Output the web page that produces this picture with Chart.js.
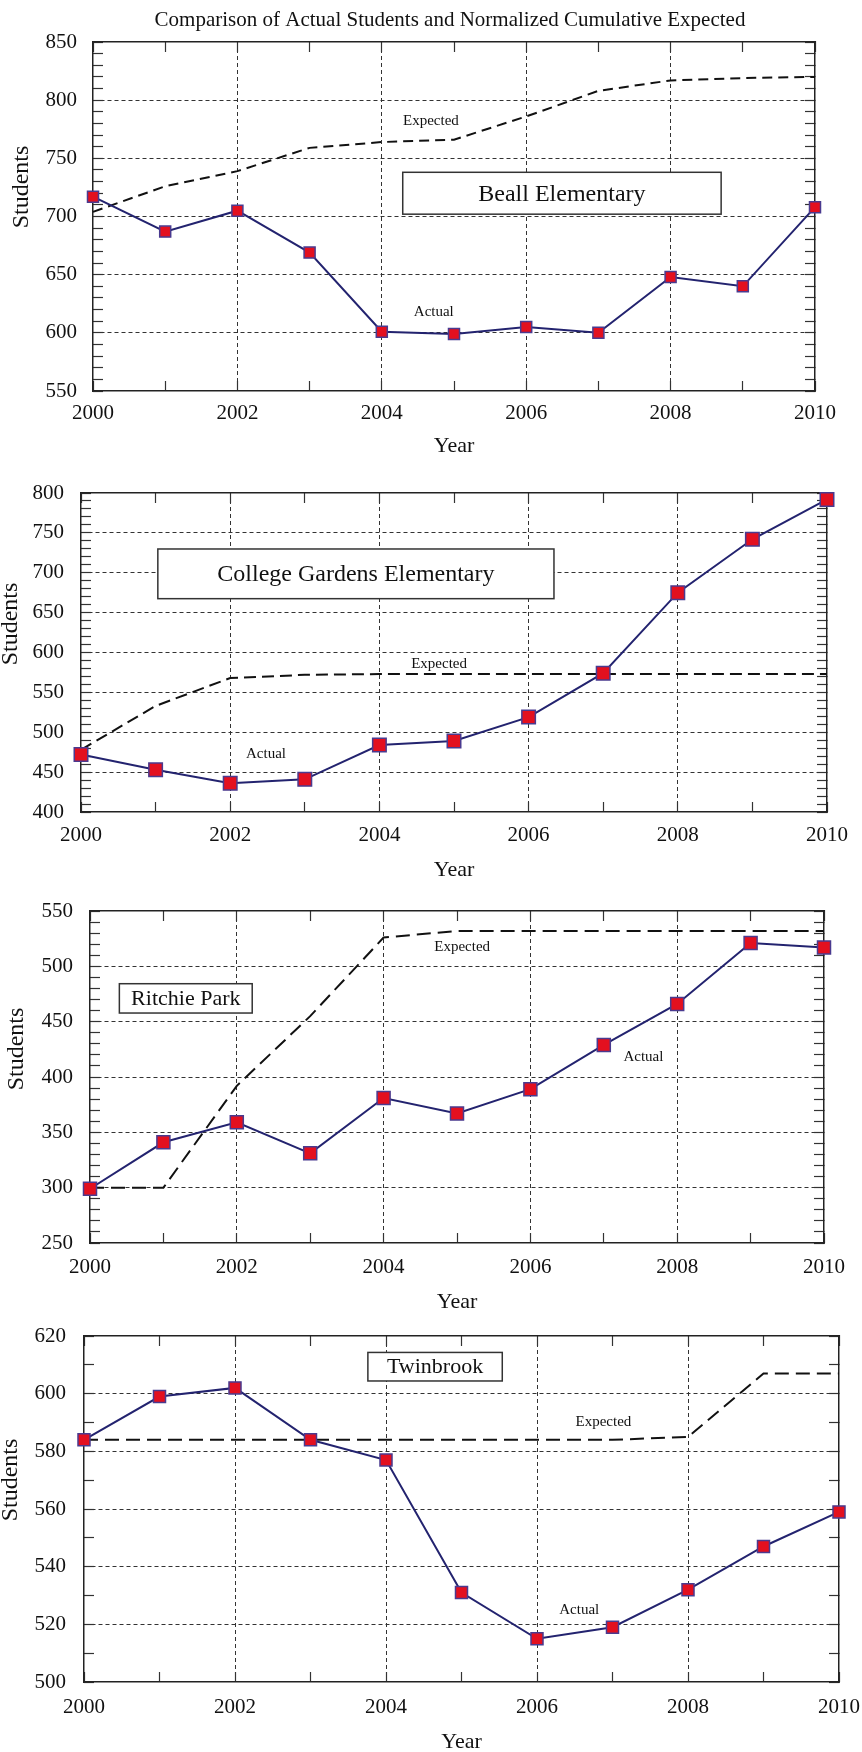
<!DOCTYPE html>
<html>
<head>
<meta charset="utf-8">
<script src="https://cdn.jsdelivr.net/npm/chart.js@4.4.1/dist/chart.umd.min.js"></script>
<style>
html,body{margin:0;padding:0;background:#fff;overflow:hidden;}
#wrap{position:relative;width:862px;height:1752px;overflow:hidden;background:#fff;}
canvas{position:absolute;left:0;}
</style>
</head>
<body>
<div id="wrap">
<canvas id="c1"></canvas>
<canvas id="c2"></canvas>
<canvas id="c3"></canvas>
<canvas id="c4"></canvas>
</div>
<script>
// ---------------- data ----------------
const years = [2000, 2001, 2002, 2003, 2004, 2005, 2006, 2007, 2008, 2009, 2010];

const beallActual     = [717, 687, 705, 669, 601, 599, 605, 600, 648, 640, 708];
const beallExpected   = [704, 726, 739, 759, 764, 766, 786, 808, 817, 819, 820];

const collegeActual   = [472, 453, 436, 441, 484, 489, 519, 574, 675, 742, 792];
const collegeExpected = [478, 533, 568, 572, 573, 573, 573, 573, 573, 573, 573];

const ritchieActual   = [299, 341, 359, 331, 381, 367, 389, 429, 466, 521, 517];
const ritchieExpected = [300, 300, 392, 455, 526, 532, 532, 532, 532, 532, 532];

const twinActual      = [584, 599, 602, 584, 577, 531, 515, 519, 532, 547, 559];
const twinExpected    = [584, 584, 584, 584, 584, 584, 584, 584, 585, 607, 607];

const schoolNames = ['Beall Elementary', 'College Gardens Elementary', 'Ritchie Park', 'Twinbrook'];
const mainTitle = 'Comparison of Actual Students and Normalized Cumulative Expected';

// ---------------- layout (pixels) ----------------
const panels = [
  { id:'c1', name:schoolNames[0], actual:beallActual, expected:beallExpected,
    yMin:550, yMax:850, yStep:50, minor:10,
    L:93, R:815, T:42, B:391, top:0, labelGap:22, yearGap:55, yGap:16,
    ytX:22, ytY:187, title:mainTitle, titleX:450, titleY:20,
    box:{x0:2004.29, x1:2008.7, y0:702, y1:738, font:24},
    expLbl:[2004.68, 782], actLbl:[2004.72, 618], marker:11, dash:[10,6] },
  { id:'c2', name:schoolNames[1], actual:collegeActual, expected:collegeExpected,
    yMin:400, yMax:800, yStep:50, minor:10,
    L:81, R:827, T:493, B:812, top:453, labelGap:23, yearGap:58, yGap:17,
    ytX:11, ytY:624,
    box:{x0:2001.03, x1:2006.34, y0:667.5, y1:729.8, font:24},
    expLbl:[2004.8, 585], actLbl:[2002.48, 473], marker:13.5, dash:[12,6] },
  { id:'c3', name:schoolNames[2], actual:ritchieActual, expected:ritchieExpected,
    yMin:250, yMax:550, yStep:50, minor:10,
    L:90, R:824, T:911, B:1243, top:871, labelGap:24, yearGap:59, yGap:17,
    ytX:17, ytY:1049,
    box:{x0:2000.4, x1:2002.21, y0:457.8, y1:484.3, font:22},
    expLbl:[2005.07, 517], actLbl:[2007.54, 418], marker:13, dash:[14,7] },
  { id:'c4', name:schoolNames[3], actual:twinActual, expected:twinExpected,
    yMin:500, yMax:620, yStep:20, minor:10,
    L:84, R:839, T:1336, B:1682, top:1296, labelGap:25, yearGap:60, yGap:18,
    ytX:11, ytY:1480,
    box:{x0:2003.76, x1:2005.54, y0:604.4, y1:614.3, font:22},
    expLbl:[2006.88, 590], actLbl:[2006.56, 525], marker:12, dash:[14,7] }
];

const SERIF = "'Liberation Serif','Times New Roman',serif";
Chart.defaults.font.family = SERIF;
Chart.defaults.color = '#111';

function makePlugin(p) {
  return {
    id: 'deco_' + p.id,
    beforeDatasetsDraw(chart) {
      const {ctx, scales:{x, y}} = chart;
      const b = p.box;
      const x1 = x.getPixelForValue(b.x0), x2 = x.getPixelForValue(b.x1);
      const y1 = y.getPixelForValue(b.y1), y2 = y.getPixelForValue(b.y0);
      ctx.save();
      ctx.fillStyle = '#fff';
      ctx.fillRect(x1, y1, x2 - x1, y2 - y1);
      ctx.strokeStyle = '#333';
      ctx.lineWidth = 1.5;
      ctx.strokeRect(x1, y1, x2 - x1, y2 - y1);
      ctx.fillStyle = '#111';
      ctx.font = b.font + 'px ' + SERIF;
      ctx.textAlign = 'center';
      ctx.textBaseline = 'middle';
      ctx.fillText(p.name, (x1 + x2) / 2, (y1 + y2) / 2 + 1);
      ctx.restore();
    },
    afterDatasetsDraw(chart) {
      const {ctx, scales:{x, y}} = chart;
      ctx.save();
      ctx.fillStyle = '#111';
      ctx.font = '15px ' + SERIF;
      ctx.textAlign = 'center';
      ctx.textBaseline = 'middle';
      ctx.fillText('Expected', x.getPixelForValue(p.expLbl[0]), y.getPixelForValue(p.expLbl[1]));
      ctx.fillText('Actual', x.getPixelForValue(p.actLbl[0]), y.getPixelForValue(p.actLbl[1]));
      ctx.restore();
    },
    afterDraw(chart) {
      const ctx = chart.ctx;
      ctx.save();
      ctx.fillStyle = '#111';
      if (p.title) {
        ctx.font = '21px ' + SERIF;
        ctx.textAlign = 'center';
        ctx.textBaseline = 'middle';
        ctx.fillText(p.title, p.titleX, p.titleY - p.top);
      }
      ctx.translate(p.ytX, p.ytY - p.top);
      ctx.rotate(-Math.PI / 2);
      ctx.font = '24px ' + SERIF;
      ctx.textAlign = 'center';
      ctx.textBaseline = 'middle';
      ctx.fillText('Students', 0, 0);
      ctx.restore();
    }
  };
}

function tickAxis(position, min, max, step, sizeKey, showBorder) {
  return {
    type: 'linear', position, min, max, weight: 0,
    ticks: { display: false, stepSize: step },
    grid: { drawOnChartArea: false, drawTicks: true, tickLength: -10,
            tickColor: '#333', tickWidth: 1.2, color: 'rgba(0,0,0,0)' },
    border: { display: showBorder, color: '#222', width: 1.5 },
    afterFit(s) { s[sizeKey] = 0; }
  };
}

function makeChart(p) {
  const canvas = document.getElementById(p.id);
  const H = Math.ceil(p.B - p.top + p.yearGap + 16);
  canvas.width = 862;
  canvas.height = H;
  canvas.style.top = p.top + 'px';
  const Hx = H - (p.B - p.top);
  const yearTitlePad = Hx - p.yearGap - 13.2;

  new Chart(canvas, {
    type: 'line',
    data: {
      datasets: [
        { label: 'Actual',
          data: years.map((yr, i) => ({ x: yr, y: p.actual[i] })),
          borderColor: '#23236f', borderWidth: 2,
          pointStyle: 'rect', pointRadius: p.marker / 1.4142,
          pointBackgroundColor: '#e3101f', pointBorderColor: '#4a3a8f', pointBorderWidth: 1.5,
          tension: 0, clip: false, xAxisID: 'x', yAxisID: 'y' },
        { label: 'Expected',
          data: years.map((yr, i) => ({ x: yr, y: p.expected[i] })),
          borderColor: '#111', borderWidth: 2, borderDash: p.dash,
          pointRadius: 0, tension: 0, clip: false, fill: false, xAxisID: 'x', yAxisID: 'y' }
      ]
    },
    options: {
      responsive: false,
      animation: false,
      devicePixelRatio: 1,
      layout: { padding: { left: 0, top: p.T - p.top, right: 862 - p.R, bottom: 0 } },
      plugins: { legend: { display: false }, title: { display: false }, tooltip: { enabled: false } },
      events: [],
      scales: {
        x: {
          type: 'linear', position: 'bottom', min: 2000, max: 2010, weight: 5,
          ticks: { stepSize: 2, padding: 0, font: { size: 21 }, color: '#111',
                   maxRotation: 0, autoSkip: false, callback: v => String(v) },
          grid: { drawOnChartArea: true, drawTicks: true, tickLength: p.labelGap - 12.6,
                  tickColor: 'rgba(0,0,0,0)', lineWidth: 1,
                  color: c => (c.tick && c.tick.value > 2000 && c.tick.value < 2010) ? '#333' : 'rgba(0,0,0,0)' },
          border: { display: true, color: '#222', width: 1.5, dash: [4, 3] },
          title: { display: true, text: 'Year', font: { size: 22 }, color: '#111',
                   padding: { top: 0, bottom: yearTitlePad } },
          afterFit(s) { s.height = Hx; }
        },
        y: {
          type: 'linear', position: 'left', min: p.yMin, max: p.yMax, weight: 5,
          ticks: { stepSize: p.yStep, padding: 0, font: { size: 21 }, color: '#111',
                   autoSkip: false, callback: v => String(v) },
          grid: { drawOnChartArea: true, drawTicks: true, tickLength: p.yGap,
                  tickColor: 'rgba(0,0,0,0)', lineWidth: 1,
                  color: c => (c.tick && c.tick.value > p.yMin && c.tick.value < p.yMax) ? '#333' : 'rgba(0,0,0,0)' },
          border: { display: true, color: '#222', width: 1.5, dash: [4, 3] },
          afterFit(s) { s.width = p.L; }
        },
        xb: tickAxis('bottom', 2000, 2010, 1, 'height', false),
        xt: tickAxis('top', 2000, 2010, 1, 'height', true),
        yl: tickAxis('left', p.yMin, p.yMax, p.minor, 'width', false),
        yr: tickAxis('right', p.yMin, p.yMax, p.minor, 'width', true)
      }
    },
    plugins: [makePlugin(p)]
  });
}

panels.forEach(makeChart);
</script>
</body>
</html>
